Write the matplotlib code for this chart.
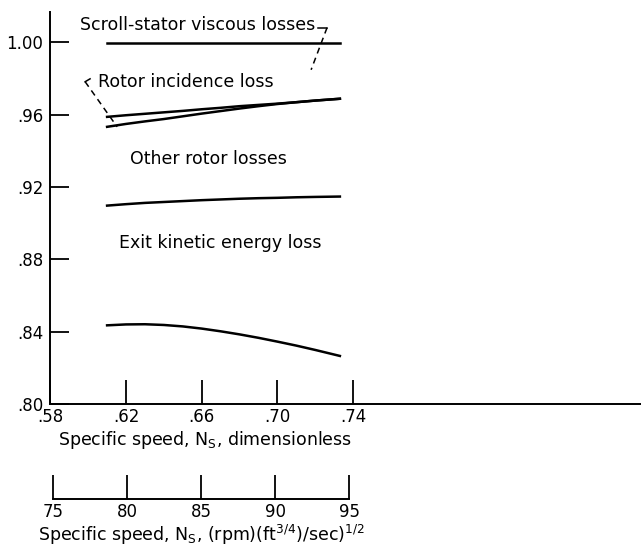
import matplotlib
matplotlib.use("Agg")
import matplotlib.pyplot as plt

# specific speed (dimensionless) along each curve
ns = [0.61, 0.62, 0.63, 0.64, 0.65, 0.66, 0.67, 0.68, 0.69, 0.70, 0.71, 0.72, 0.733]

# cumulative efficiency after each loss
scroll_stator = [0.9996] * len(ns)
incidence_upper = [0.9587, 0.9596, 0.9604, 0.9612, 0.9620, 0.9629, 0.9637, 0.9646, 0.9653,
                   0.9660, 0.9668, 0.9677, 0.9687]
incidence_lower = [0.9532, 0.9548, 0.9562, 0.9575, 0.9590, 0.9605, 0.9619, 0.9633, 0.9646,
                   0.9658, 0.9668, 0.9677, 0.9687]
other_rotor = [0.9097, 0.9105, 0.9112, 0.9117, 0.9122, 0.9127, 0.9131, 0.9135, 0.9138,
               0.9140, 0.9143, 0.9145, 0.9147]
exit_ke = [0.8436, 0.8441, 0.8442, 0.8438, 0.8430, 0.8418, 0.8403, 0.8386, 0.8367,
           0.8346, 0.8324, 0.8300, 0.8267]

xticks = [0.58, 0.62, 0.66, 0.70, 0.74]
xticklabels = [".58", ".62", ".66", ".70", ".74"]
yticks = [0.80, 0.84, 0.88, 0.92, 0.96, 1.00]
yticklabels = [".80", ".84", ".88", ".92", ".96", "1.00"]
us_ticks = [75, 80, 85, 90, 95]

plt.rcParams['font.family'] = 'DejaVu Sans'
plt.rcParams['font.size'] = 12.5

fig = plt.figure(figsize=(6.41, 5.53), dpi=100)
ax = fig.add_axes([0.0785, 0.2689, 0.9215, 0.7094])

for y in [scroll_stator, incidence_upper, incidence_lower, other_rotor, exit_ke]:
    ax.plot(ns, y, color='black', lw=1.8)

ax.set_xlim(0.58, 0.8921)
ax.set_ylim(0.80, 1.0166)
ax.set_xticks(xticks)
ax.set_xticklabels(xticklabels, fontsize=12)
ax.set_yticks(yticks)
ax.set_yticklabels(yticklabels, fontsize=12)
for s in ['top', 'right']:
    ax.spines[s].set_visible(False)
for s in ['left', 'bottom']:
    ax.spines[s].set_linewidth(1.4)
ax.tick_params(axis='x', direction='in', length=17, width=1.3, pad=3)
ax.tick_params(axis='y', direction='in', length=14, width=1.3, pad=5)
ax.set_xlabel("Specific speed, N$_\\mathrm{S}$, dimensionless")
ax.xaxis.set_label_coords(0.262, -0.063)

# curve labels
ax.text(0.6578, 1.0096, "Scroll-stator viscous losses", ha='center', va='center')
ax.text(0.6053, 0.9781, "Rotor incidence loss", ha='left', va='center')
ax.text(0.6633, 0.9356, "Other rotor losses", ha='center', va='center')
ax.text(0.6697, 0.8891, "Exit kinetic energy loss", ha='center', va='center')

# leader lines
ax.plot([0.7215, 0.7262], [1.0079, 1.0079], color='black', lw=1.1)
ax.plot([0.7262, 0.7178], [1.0079, 0.9847], color='black', lw=1.1, ls=(0, (4, 3)))
ax.plot([0.5984, 0.6010], [0.9781, 0.9797], color='black', lw=1.1)
ax.plot([0.5984, 0.6153], [0.9781, 0.9532], color='black', lw=1.1, ls=(0, (4, 3)))

# second scale in (rpm)(ft^3/4)/sec^1/2
ax2 = fig.add_axes([0.0832, 0.0976, 0.4613, 0.05])
ax2.set_xlim(75, 95)
ax2.set_ylim(0, 1)
ax2.set_xticks(us_ticks)
ax2.set_xticklabels([str(t) for t in us_ticks], fontsize=12)
ax2.set_yticks([])
for s in ['top', 'right', 'left']:
    ax2.spines[s].set_visible(False)
ax2.spines['bottom'].set_linewidth(1.4)
ax2.patch.set_visible(False)
ax2.tick_params(axis='x', direction='in', length=17, width=1.3, pad=3)
ax2.set_xlabel("Specific speed, N$_\\mathrm{S}$, (rpm)(ft$^{3/4}$)/sec)$^{1/2}$", labelpad=1)

fig.savefig("out.png", dpi=100)
